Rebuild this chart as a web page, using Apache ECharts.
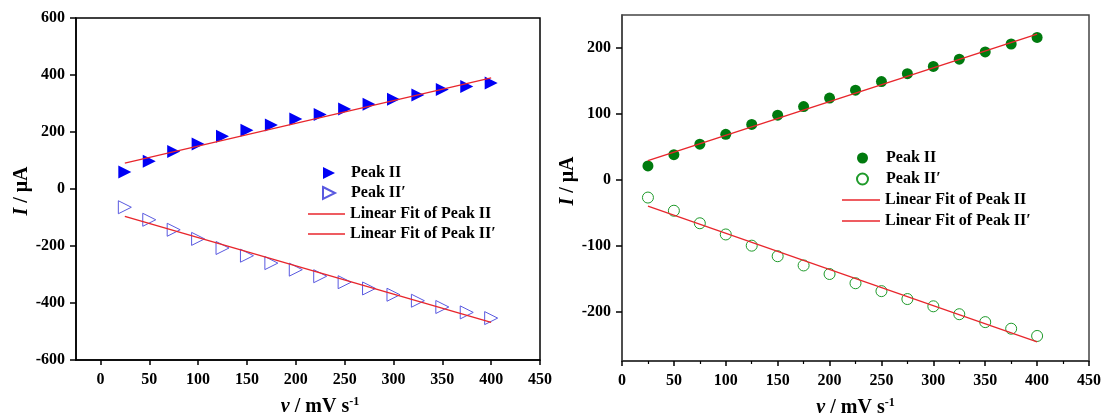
<!DOCTYPE html>
<html>
<head>
<meta charset="utf-8">
<script src="https://cdn.jsdelivr.net/npm/echarts@6/dist/echarts.min.js"></script>
<style>
  html, body { margin: 0; padding: 0; background: #fff; }
  #main { width: 1101px; height: 416px; }
</style>
</head>
<body>
<div id="main"></div>
<script>
const scanRates = [25, 50, 75, 100, 125, 150, 175, 200, 225, 250, 275, 300, 325, 350, 375, 400];

// left panel (triangles)
const leftPeak = [60, 97, 132, 158, 185, 206, 225, 246, 261, 281, 297, 315, 330, 349, 360, 372];
const leftPeakPrime = [-64, -108, -143, -175, -207, -234, -260, -283, -306, -327, -349, -371, -392, -414, -433, -453];
const leftFit = [[25, 91], [400, 390]];
const leftFitPrime = [[25, -96], [400, -468]];

// right panel (circles)
const rightPeak = [21, 38, 54, 69, 84, 98, 111, 124, 136, 149, 161, 172, 183, 194, 206, 216];
const rightPeakPrime = [-27, -47, -66, -83, -100, -116, -130, -143, -157, -169, -181, -192, -204, -216, -226, -237];
const rightFit = [[25, 29], [400, 221]];
const rightFitPrime = [[25, -40], [400, -246]];

const xTicks = [0, 50, 100, 150, 200, 250, 300, 350, 400, 450];
const rightYTicks = [-200, -100, 0, 100, 200];

const names = ['Peak II', 'Peak II\u2032', 'Linear Fit of Peak II', 'Linear Fit of Peak II\u2032'];
// series names carry a panel prefix so each legend picks its own series
const L = names.map(n => 'L:' + n);
const R = names.map(n => 'R:' + n);
const stripPrefix = (n) => n.slice(2);

const pairs = (ys) => scanRates.map((x, i) => [x, ys[i]]);

const font = 'Liberation Serif';
const labelStyle = { fontFamily: font, fontWeight: 'bold', fontSize: 16, color: '#000' };
const fitRed = '#e8262c';
const triRight = 'path://M0,0L10,5L0,10Z';

const xName = {
  name: '{i|v} / mV s{sup|-1}',
  nameLocation: 'middle',
  nameGap: 36,
  nameTextStyle: {
    fontFamily: font, fontWeight: 'bold', fontSize: 20, color: '#000',
    rich: {
      i: { fontFamily: font, fontWeight: 'bold', fontStyle: 'italic', fontSize: 20 },
      sup: { fontFamily: font, fontWeight: 'bold', fontSize: 12, verticalAlign: 'top', padding: [0, 0, 9, 0] }
    }
  }
};
const yName = (gap) => ({
  name: '{i|I} / \u03bcA',
  nameLocation: 'middle',
  nameGap: gap,
  nameTextStyle: {
    fontFamily: font, fontWeight: 'bold', fontSize: 20, color: '#000',
    rich: { i: { fontFamily: font, fontWeight: 'bold', fontStyle: 'italic', fontSize: 20 } }
  }
});

const chart = echarts.init(document.getElementById('main'));
chart.setOption({
  animation: false,
  backgroundColor: '#fff',
  grid: [
    { left: 76, top: 18, width: 464, height: 342, outerBoundsMode: 'none', containLabel: false,
      show: true, borderColor: '#000', borderWidth: 1.5, backgroundColor: 'transparent' },
    { left: 622, top: 15, width: 467, height: 346, outerBoundsMode: 'none', containLabel: false,
      show: true, borderColor: '#444', borderWidth: 1.5, backgroundColor: 'transparent' }
  ],
  xAxis: [
    {
      gridIndex: 0, type: 'value', min: -25, max: 450, ...xName,
      nameTextStyle: { ...xName.nameTextStyle, padding: [0, 0, 0, 24] },
      axisLine: { onZero: false, lineStyle: { color: '#000', width: 1.5 } },
      axisTick: { customValues: xTicks, length: 5, lineStyle: { color: '#000', width: 1.5 } },
      axisLabel: { customValues: xTicks, margin: 12, ...labelStyle },
      splitLine: { show: false }
    },
    {
      gridIndex: 1, type: 'value', min: 0, max: 450, interval: 50, ...xName,
      axisLine: { onZero: false, lineStyle: { color: '#333', width: 1.5 } },
      axisTick: { length: 5, lineStyle: { color: '#000', width: 1.5 } },
      minorTick: { show: true, splitNumber: 2, length: 3, lineStyle: { color: '#000', width: 1.2 } },
      axisLabel: { margin: 12, ...labelStyle },
      splitLine: { show: false }
    }
  ],
  yAxis: [
    {
      gridIndex: 0, type: 'value', min: -600, max: 600, interval: 200, ...yName(42),
      nameTextStyle: { ...yName(42).nameTextStyle, padding: [0, 4, 0, 0] },
      axisLine: { show: true, onZero: false, lineStyle: { color: '#000', width: 1.5 } },
      axisTick: { show: true, length: 6, lineStyle: { color: '#000', width: 1.5 } },
      axisLabel: { margin: 11, ...labelStyle },
      splitLine: { show: false }
    },
    {
      gridIndex: 1, type: 'value', min: -275, max: 250, ...yName(28),
      nameTextStyle: { ...yName(28).nameTextStyle, padding: [0, 0, 0, 14] },
      axisLine: { show: true, onZero: false, lineStyle: { color: '#444', width: 1.5 } },
      axisTick: { show: true, customValues: rightYTicks, length: 6, lineStyle: { color: '#000', width: 1.5 } },
      axisLabel: { customValues: rightYTicks, margin: 11, ...labelStyle },
      splitLine: { show: false }
    }
  ],
  legend: [
    {
      data: [{ name: L[0], icon: triRight }, { name: L[1], icon: triRight }],
      left: 317, top: 160, orient: 'vertical', formatter: stripPrefix,
      itemWidth: 12, itemHeight: 13, itemGap: 4, selectedMode: false,
      textStyle: { ...labelStyle, padding: [0, 0, 0, 11] }
    },
    {
      data: [{ name: L[2], icon: 'rect' }, { name: L[3], icon: 'rect' }],
      left: 303, top: 201, orient: 'vertical', formatter: stripPrefix,
      itemWidth: 37, itemHeight: 1.5, itemGap: 4, selectedMode: false,
      textStyle: { ...labelStyle }
    },
    {
      data: [{ name: R[0], icon: 'circle' }, { name: R[1], icon: 'circle' }],
      left: 851, top: 145, orient: 'vertical', formatter: stripPrefix,
      itemWidth: 11, itemHeight: 11, itemGap: 5, selectedMode: false,
      textStyle: { ...labelStyle, padding: [0, 0, 0, 13] }
    },
    {
      data: [{ name: R[2], icon: 'rect' }, { name: R[3], icon: 'rect' }],
      left: 837, top: 187, orient: 'vertical', formatter: stripPrefix,
      itemWidth: 38, itemHeight: 1.5, itemGap: 5, selectedMode: false,
      textStyle: { ...labelStyle }
    }
  ],
  series: [
    {
      name: L[2], type: 'line', xAxisIndex: 0, yAxisIndex: 0, data: leftFit,
      symbol: 'none', lineStyle: { color: fitRed, width: 1.2 }, itemStyle: { color: fitRed }, z: 3
    },
    {
      name: L[3], type: 'line', xAxisIndex: 0, yAxisIndex: 0, data: leftFitPrime,
      symbol: 'none', lineStyle: { color: fitRed, width: 1.5 }, itemStyle: { color: fitRed }, z: 3
    },
    {
      name: L[0], type: 'scatter', xAxisIndex: 0, yAxisIndex: 0, data: pairs(leftPeak),
      symbol: 'triangle', symbolRotate: -90, symbolSize: 13,
      itemStyle: { color: '#0000f5', opacity: 1 }, z: 2
    },
    {
      name: L[1], type: 'scatter', xAxisIndex: 0, yAxisIndex: 0, data: pairs(leftPeakPrime),
      symbol: 'triangle', symbolRotate: -90, symbolSize: 13,
      itemStyle: { color: 'rgba(255,255,255,0)', borderColor: '#5a5ae0', borderWidth: 1, opacity: 1 }, z: 2
    },
    {
      name: R[2], type: 'line', xAxisIndex: 1, yAxisIndex: 1, data: rightFit,
      symbol: 'none', lineStyle: { color: fitRed, width: 1.5 }, itemStyle: { color: fitRed }, z: 3
    },
    {
      name: R[3], type: 'line', xAxisIndex: 1, yAxisIndex: 1, data: rightFitPrime,
      symbol: 'none', lineStyle: { color: fitRed, width: 1.2 }, itemStyle: { color: fitRed }, z: 3
    },
    {
      name: R[0], type: 'scatter', xAxisIndex: 1, yAxisIndex: 1, data: pairs(rightPeak),
      symbol: 'circle', symbolSize: 11,
      itemStyle: { color: '#007a0e', opacity: 1 }, z: 2
    },
    {
      name: R[1], type: 'scatter', xAxisIndex: 1, yAxisIndex: 1, data: pairs(rightPeakPrime),
      symbol: 'circle', symbolSize: 11,
      itemStyle: { color: 'rgba(255,255,255,0)', borderColor: '#1e9a2a', borderWidth: 1, opacity: 1 }, z: 2
    }
  ]
});
</script>
</body>
</html>
